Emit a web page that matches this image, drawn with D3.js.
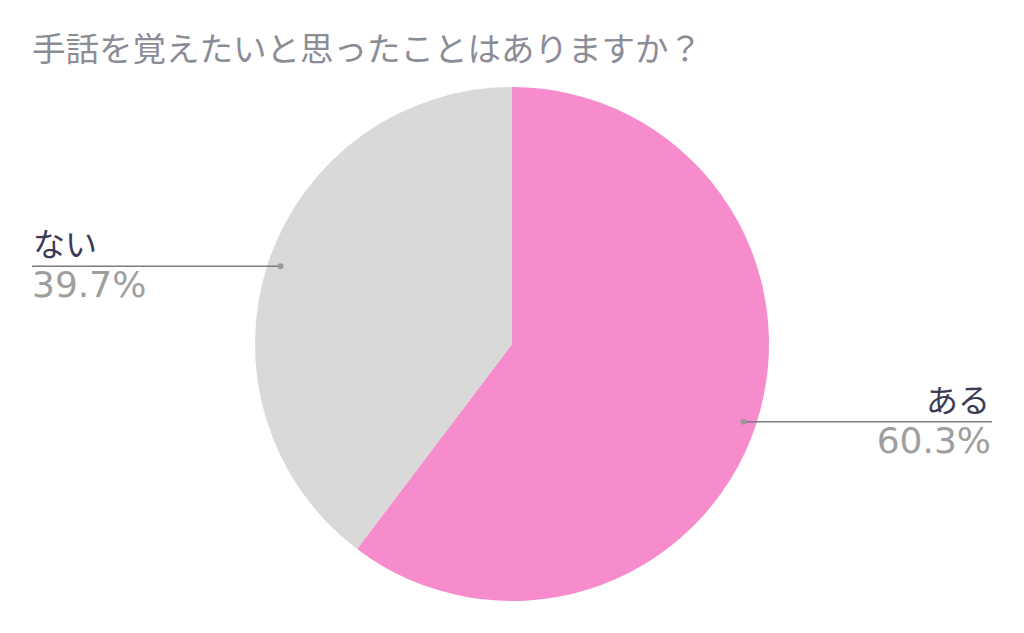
<!DOCTYPE html>
<html>
<head>
<meta charset="utf-8">
<script src="https://cdn.jsdelivr.net/npm/d3@7"></script>
<style>
  body { margin: 0; background: #fff; }
  svg { display: block; font-family: "DejaVu Sans", "Noto Sans CJK JP", sans-serif; }
</style>
</head>
<body>
<svg id="chart" width="1024" height="633"></svg>
<script>
// data
const categories = ['ある', 'ない'];
const values = [60.3, 39.7];
const colors = ['#f68ccb', '#d9d9d9'];
const title = '手話を覚えたいと思ったことはありますか？';

const width = 1024, height = 633;
const cx = 512, cy = 344, radius = 257;

const svg = d3.select('#chart');

svg.append('text')
  .attr('x', 32)
  .attr('y', 61)
  .attr('font-size', 33.5)
  .attr('fill', '#8c8c96')
  .text(title);

const pie = d3.pie().sort(null).value(d => d);
const arcs = pie(values);
const arc = d3.arc().innerRadius(0).outerRadius(radius);

const g = svg.append('g').attr('transform', `translate(${cx},${cy})`);

g.selectAll('path')
  .data(arcs)
  .enter().append('path')
  .attr('d', arc)
  .attr('fill', (d, i) => colors[i]);

// labels with leader lines
const anchorR = radius * 0.95;
arcs.forEach((d, i) => {
  const mid = (d.startAngle + d.endAngle) / 2;
  const px = cx + anchorR * Math.sin(mid);
  const py = cy - anchorR * Math.cos(mid);
  const right = Math.sin(mid) > 0;
  const endX = right ? 992 : 32;

  svg.append('line')
    .attr('x1', px).attr('y1', py)
    .attr('x2', endX).attr('y2', py)
    .attr('stroke', '#7a7a80')
    .attr('stroke-width', 1.5);
  svg.append('circle')
    .attr('cx', px).attr('cy', py)
    .attr('r', 3)
    .attr('fill', '#999');

  svg.append('text')
    .attr('x', right ? endX - 2 : endX + 1)
    .attr('y', py - 10)
    .attr('text-anchor', right ? 'end' : 'start')
    .attr('font-size', 32)
    .attr('fill', '#3b3b55')
    .text(categories[i]);

  svg.append('text')
    .attr('x', right ? endX - 1 : endX)
    .attr('y', py + 31)
    .attr('text-anchor', right ? 'end' : 'start')
    .attr('font-size', 36)
    .attr('fill', '#9e9e9e')
    .text(d3.format('.1f')(values[i]) + '%');
});
</script>
</body>
</html>
